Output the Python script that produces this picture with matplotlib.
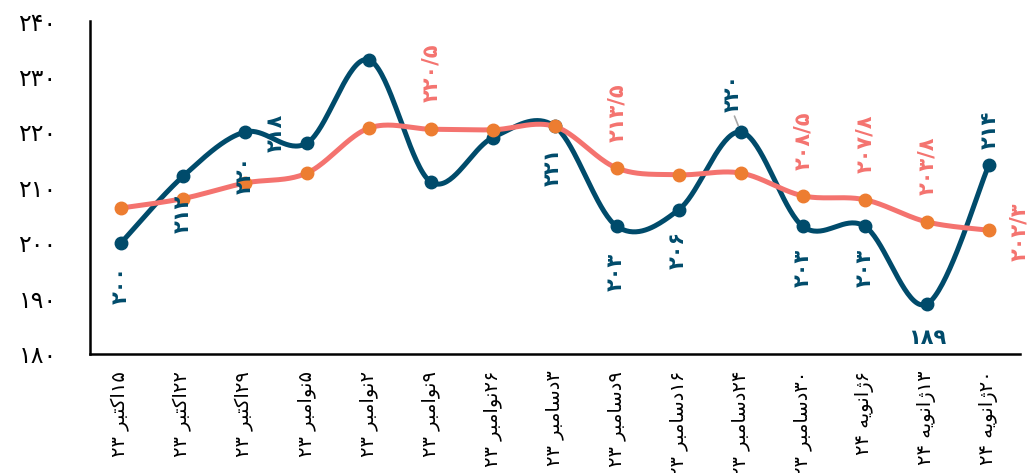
import matplotlib
matplotlib.use("Agg")
import matplotlib.pyplot as plt
import numpy as np

plt.rcParams['font.family'] = ['DejaVu Sans']

# داده ها
days = ["۱۵", "۲۲", "۲۹", "۵", "۲", "۹", "۲۶", "۳", "۹", "۱۶", "۲۴", "۳۰", "۶", "۱۳", "۲۰"]
months = ["اکتبر", "اکتبر", "اکتبر", "نوامبر", "نوامبر", "نوامبر", "نوامبر",
          "دسامبر", "دسامبر", "دسامبر", "دسامبر", "دسامبر", "ژانویه", "ژانویه", "ژانویه"]
years = ["۲۳"] * 12 + ["۲۴"] * 3
blue_vals = [200, 212, 220, 218, 233, 211, 219, 221, 203, 206, 220, 203, 203, 189, 214]
orange_vals = [206.3, 208, 210.8, 212.6, 220.7, 220.5, 220.4, 221, 213.5, 212.3, 212.6,
               208.5, 207.8, 203.8, 202.3]
y_ticks = [180, 190, 200, 210, 220, 230, 240]

BLUE = '#004B6B'
SALMON = '#F4736F'
ORANGE = '#ED7D31'

# شکل دادن ساده حروف فارسی (matplotlib خودش این کار را نمی کند)
FORMS = {
    'ا': ('\uFE8D', '\uFE8E', None, None),
    'ب': ('\uFE8F', '\uFE90', '\uFE91', '\uFE92'),
    'ت': ('\uFE95', '\uFE96', '\uFE97', '\uFE98'),
    'د': ('\uFEA9', '\uFEAA', None, None),
    'ر': ('\uFEAD', '\uFEAE', None, None),
    'س': ('\uFEB1', '\uFEB2', '\uFEB3', '\uFEB4'),
    'م': ('\uFEE1', '\uFEE2', '\uFEE3', '\uFEE4'),
    'ن': ('\uFEE5', '\uFEE6', '\uFEE7', '\uFEE8'),
    'ه': ('\uFEE9', '\uFEEA', '\uFEEB', '\uFEEC'),
    'و': ('\uFEED', '\uFEEE', None, None),
    'ک': ('\uFB8E', '\uFB8F', '\uFB90', '\uFB91'),
    'ژ': ('\uFB8A', '\uFB8B', None, None),
    'ی': ('\uFBFC', '\uFBFD', '\uFBFE', '\uFBFF'),
}


def shape(word):
    out = []
    for i, ch in enumerate(word):
        f = FORMS[ch]
        prev_j = i > 0 and FORMS[word[i - 1]][2] is not None
        next_j = f[2] is not None and i < len(word) - 1
        if prev_j and next_j:
            out.append(f[3])
        elif prev_j:
            out.append(f[1])
        elif next_j:
            out.append(f[2])
        else:
            out.append(f[0])
    return ''.join(reversed(out))


def fa(num):
    s = str(num).replace('.', '/')
    return s.translate(str.maketrans('0123456789', '۰۱۲۳۴۵۶۷۸۹'))


def smooth(xs, ys, n=40):
    pts = np.column_stack([xs, ys]).astype(float)
    p = np.vstack([pts[0], pts, pts[-1]])
    t = np.linspace(0, 1, n)[:, None]
    segs = []
    for i in range(1, len(p) - 2):
        p0, p1, p2, p3 = p[i - 1], p[i], p[i + 1], p[i + 2]
        c1 = p1 + (p2 - p0) / 6
        c2 = p2 - (p3 - p1) / 6
        segs.append((1 - t) ** 3 * p1 + 3 * (1 - t) ** 2 * t * c1 + 3 * (1 - t) * t ** 2 * c2 + t ** 3 * p2)
    return np.vstack(segs)


x = np.arange(len(days))
labels = [y + ' ' + shape(m) + d for d, m, y in zip(days, months, years)]

fig = plt.figure(figsize=(10.28, 4.73), dpi=100)
ax = fig.add_axes([0.0875, 0.2516, 0.9045, 0.704])

sb = smooth(x, blue_vals)
so = smooth(x, orange_vals)
ax.plot(sb[:, 0], sb[:, 1], color=BLUE, lw=3.6, solid_capstyle='round', zorder=2)
ax.plot(x, blue_vals, 'o', color=BLUE, ms=9, zorder=3)
ax.plot(so[:, 0], so[:, 1], color=SALMON, lw=3.6, solid_capstyle='round', zorder=4)
ax.plot(x, orange_vals, 'o', color=ORANGE, ms=9, zorder=5)

# برچسب های سری آبی: (اندیس، جابجایی x، جابجایی y به پیکسل، چرخش)
blue_lab = [(0, 0, -42, 90), (1, 0, -37, 90), (2, 0, -43, 90), (3, -31, 10, 90),
            (7, -2, -40, 90), (8, -1, -46, 90), (9, -1, -40, 90), (11, 0, -42, 90),
            (12, 0, -42, 90), (13, 0, -34, 0), (14, 1, 35, 90)]
for i, dx, dy, rot in blue_lab:
    ax.annotate(fa(blue_vals[i]), (x[i], blue_vals[i]), xytext=(dx, dy),
                textcoords='offset pixels', ha='center', va='center', rotation=rot,
                fontsize=15, fontweight='bold', color=BLUE, zorder=6)
ax.annotate(fa(blue_vals[10]), (x[10], blue_vals[10]), xytext=(-8, 39),
            textcoords='offset pixels', ha='center', va='center', rotation=90,
            fontsize=15, fontweight='bold', color=BLUE, zorder=6,
            arrowprops=dict(arrowstyle='-', color='#A6A6A6', lw=1.2,
                            relpos=(0.5, 0), shrinkA=1, shrinkB=5))

orange_lab = [(5, 0, 56), (8, 0, 55), (11, 0, 55), (12, 0, 56), (13, 0, 56), (14, 30, -2)]
for i, dx, dy in orange_lab:
    ax.annotate(fa(orange_vals[i]), (x[i], orange_vals[i]), xytext=(dx, dy),
                textcoords='offset pixels', ha='center', va='center', rotation=90,
                fontsize=15, fontweight='bold', color=SALMON, zorder=6,
                annotation_clip=False)

ax.set_xlim(-0.5, len(x) - 0.5)
ax.set_ylim(180, 240)
ax.set_yticks(y_ticks)
ax.set_yticklabels([fa(v) for v in y_ticks], fontsize=17)
ax.set_xticks(x)
ax.set_xticklabels(labels, rotation=90, fontsize=14, va='top', ha='center')
ax.tick_params(axis='y', length=0, pad=24)
ax.tick_params(axis='x', length=0, pad=12)
for s in ['top', 'right']:
    ax.spines[s].set_visible(False)
for s in ['left', 'bottom']:
    ax.spines[s].set_linewidth(1.8)

fig.savefig('out.png', dpi=100)
